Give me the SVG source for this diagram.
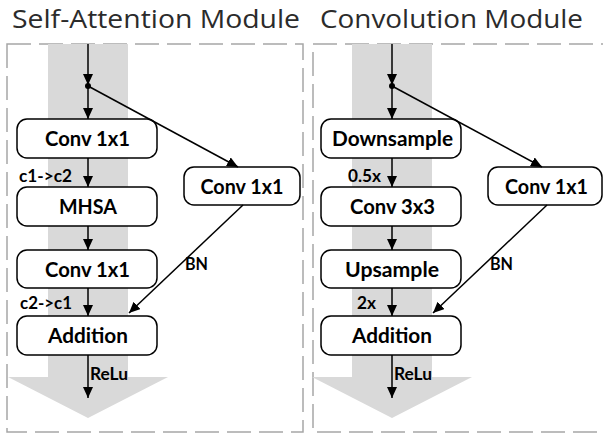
<svg xmlns="http://www.w3.org/2000/svg" width="603" height="433" viewBox="0 0 603 433">
  <style>
    .title { font-family: "Open Sans", "Liberation Sans", sans-serif; font-weight: 400; font-size: 25px; fill: #2b2b2b; }
    .frame { fill: none; stroke: #a6a6a6; stroke-width: 1.5; stroke-dasharray: 24 8; }
    .band { fill: #d9d9d9; }
    .box rect { fill: #ffffff; stroke: #000000; stroke-width: 1.5; }
    .box text { font-family: Lato, "Liberation Sans", Arial, sans-serif; font-weight: bold; font-size: 20.5px; fill: #000000; text-anchor: middle; }
    .lbl { font-family: Lato, "Liberation Sans", Arial, sans-serif; font-weight: bold; font-size: 16.5px; fill: #000000; }
    .conn line { stroke: #000000; stroke-width: 1.5; }
  </style>
  <defs>
    <marker id="ah" markerUnits="userSpaceOnUse" markerWidth="12" markerHeight="10" refX="11" refY="5" orient="auto">
      <path d="M0,0 L11,5 L0,10 Z" fill="#000000"/>
    </marker>
  </defs>
  <rect width="603" height="433" fill="#ffffff"/>

  <!-- Titles -->
  <text class="title" x="12" y="28" textLength="288" lengthAdjust="spacingAndGlyphs">Self-Attention Module</text>
  <text class="title" x="320" y="28" textLength="263" lengthAdjust="spacingAndGlyphs">Convolution Module</text>

  <!-- Frames -->
  <rect class="frame" x="7" y="44" width="296" height="388"/>
  <rect class="frame" x="313" y="44" width="300" height="388"/>

  <!-- Gray flow bands -->
  <path class="band" d="M48,44 H128 V377 H168 L88,418 L8,377 H48 Z"/>
  <path class="band" d="M352,44 H432 V377 H472 L392,418 L312,377 H352 Z"/>

  <!-- Left module nodes -->
  <g id="sa-conv1" class="box"><rect x="17" y="119" width="140" height="39" rx="10"/><text x="87.5" y="145.5" textLength="85" lengthAdjust="spacingAndGlyphs">Conv 1x1</text></g>
  <g id="sa-mhsa" class="box"><rect x="17" y="187" width="140" height="39" rx="10"/><text x="88" y="213.5" textLength="58" lengthAdjust="spacingAndGlyphs">MHSA</text></g>
  <g id="sa-conv2" class="box"><rect x="17" y="250" width="140" height="38" rx="10"/><text x="87.5" y="276.5" textLength="85" lengthAdjust="spacingAndGlyphs">Conv 1x1</text></g>
  <g id="sa-add" class="box"><rect x="17" y="316" width="140" height="39" rx="10"/><text x="88" y="342.5" textLength="80" lengthAdjust="spacingAndGlyphs">Addition</text></g>
  <g id="sa-side" class="box"><rect x="184" y="167" width="116" height="38" rx="10"/><text x="242" y="193.5" textLength="83" lengthAdjust="spacingAndGlyphs">Conv 1x1</text></g>

  <!-- Right module nodes -->
  <g id="cv-down" class="box"><rect x="321" y="119" width="140" height="39" rx="10"/><text x="392.5" y="145.5" textLength="121" lengthAdjust="spacingAndGlyphs">Downsample</text></g>
  <g id="cv-conv" class="box"><rect x="321" y="187" width="140" height="39" rx="10"/><text x="392.5" y="213.5" textLength="85" lengthAdjust="spacingAndGlyphs">Conv 3x3</text></g>
  <g id="cv-up" class="box"><rect x="321" y="250" width="140" height="38" rx="10"/><text x="392" y="276.5" textLength="94" lengthAdjust="spacingAndGlyphs">Upsample</text></g>
  <g id="cv-add" class="box"><rect x="321" y="316" width="140" height="39" rx="10"/><text x="392" y="342.5" textLength="80" lengthAdjust="spacingAndGlyphs">Addition</text></g>
  <g id="cv-side" class="box"><rect x="488" y="167" width="114" height="38" rx="10"/><text x="546.5" y="193.5" textLength="83" lengthAdjust="spacingAndGlyphs">Conv 1x1</text></g>

  <!-- Connectors -->
  <g id="connectors" class="conn">
    <line x1="88" y1="44" x2="88" y2="85" marker-end="url(#ah)"/>
    <line x1="88" y1="86" x2="88" y2="119" marker-end="url(#ah)"/>
    <line x1="88" y1="158" x2="88" y2="187" marker-end="url(#ah)"/>
    <line x1="88" y1="226" x2="88" y2="250" marker-end="url(#ah)"/>
    <line x1="88" y1="288" x2="88" y2="316" marker-end="url(#ah)"/>
    <line x1="88" y1="355" x2="88" y2="398" marker-end="url(#ah)"/>
    <line x1="88" y1="86" x2="238" y2="167" marker-end="url(#ah)"/>
    <line x1="243" y1="205" x2="129" y2="313" marker-end="url(#ah)"/>
    <circle cx="88" cy="86" r="3" fill="#000000"/>

    <line x1="392" y1="44" x2="392" y2="85" marker-end="url(#ah)"/>
    <line x1="392" y1="86" x2="392" y2="119" marker-end="url(#ah)"/>
    <line x1="392" y1="158" x2="392" y2="187" marker-end="url(#ah)"/>
    <line x1="392" y1="226" x2="392" y2="250" marker-end="url(#ah)"/>
    <line x1="392" y1="288" x2="392" y2="316" marker-end="url(#ah)"/>
    <line x1="392" y1="355" x2="392" y2="398" marker-end="url(#ah)"/>
    <line x1="392" y1="86" x2="542" y2="167" marker-end="url(#ah)"/>
    <line x1="547" y1="205" x2="433" y2="313" marker-end="url(#ah)"/>
    <circle cx="392" cy="86" r="3" fill="#000000"/>
  </g>

  <!-- Labels -->
  <text class="lbl" x="19" y="182" textLength="53" lengthAdjust="spacingAndGlyphs">c1-&gt;c2</text>
  <text class="lbl" x="20" y="309" textLength="52" lengthAdjust="spacingAndGlyphs">c2-&gt;c1</text>
  <text class="lbl" x="185" y="270" textLength="23" lengthAdjust="spacingAndGlyphs">BN</text>
  <text class="lbl" x="90" y="380" textLength="38" lengthAdjust="spacingAndGlyphs">ReLu</text>
  <text class="lbl" x="348" y="182" textLength="33" lengthAdjust="spacingAndGlyphs">0.5x</text>
  <text class="lbl" x="357" y="309" textLength="19" lengthAdjust="spacingAndGlyphs">2x</text>
  <text class="lbl" x="490" y="270" textLength="23" lengthAdjust="spacingAndGlyphs">BN</text>
  <text class="lbl" x="394" y="380" textLength="38" lengthAdjust="spacingAndGlyphs">ReLu</text>
</svg>
